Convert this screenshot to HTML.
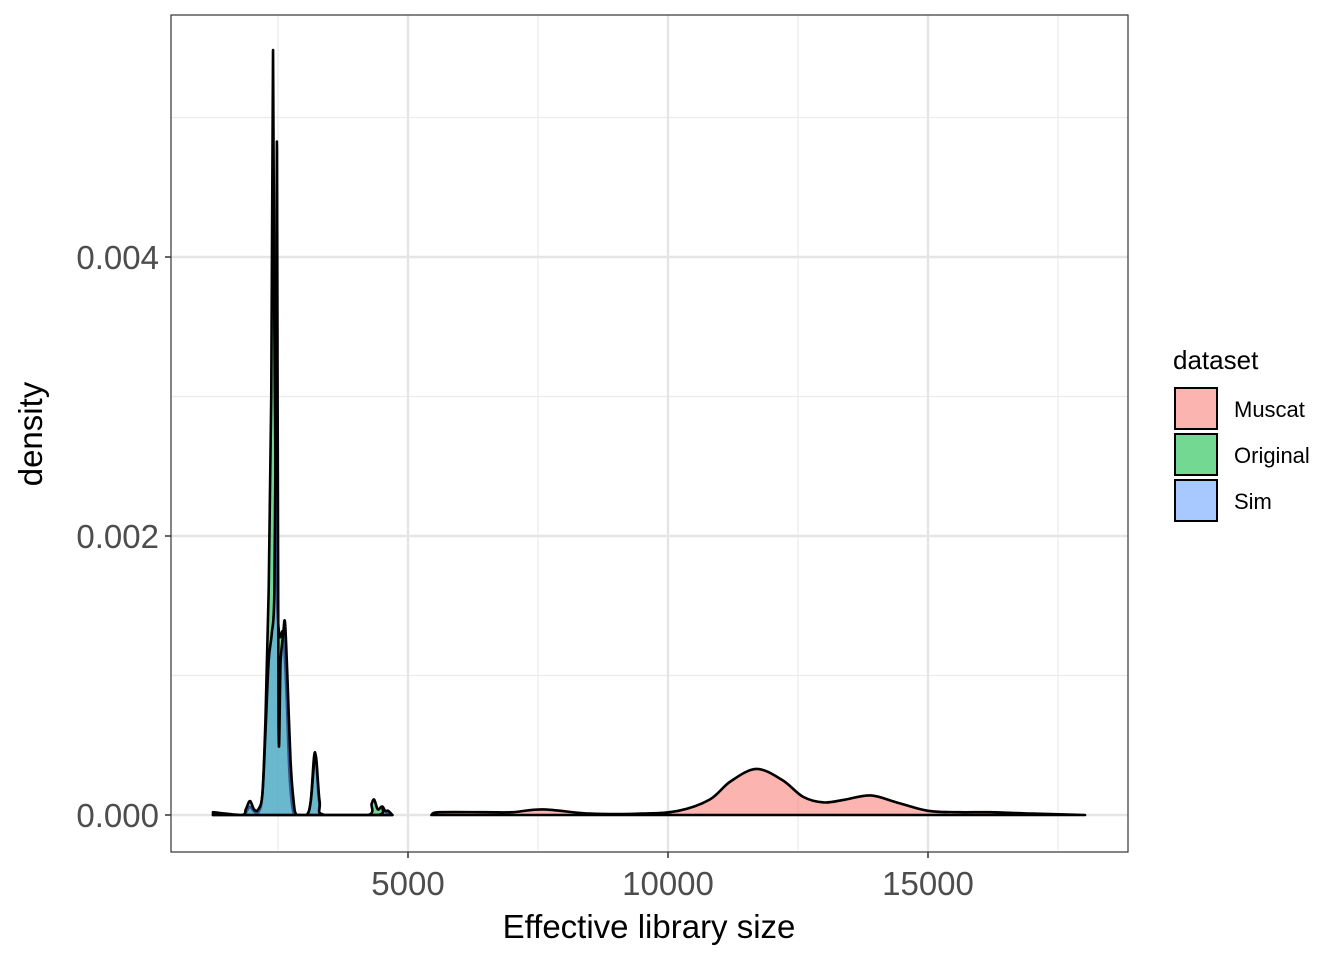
<!DOCTYPE html>
<html><head><meta charset="utf-8"><style>
body{margin:0;background:#fff;font-family:"Liberation Sans",Arial,sans-serif}
</style></head><body>
<svg id="c" width="1344" height="960" xmlns="http://www.w3.org/2000/svg"></svg>
<script>
const xTicks=[5000,10000,15000];
const yTicks=[0,0.002,0.004];
const yTickLabels=["0.000","0.002","0.004"];
const seriesNames=["Muscat","Original","Sim"];
const muscatX=[5450,5600,6500,7000,7600,8500,9500,10200,10800,11200,11700,12200,12600,13000,13400,13900,14400,15000,15600,16200,17000,18020];
const muscatY=[0,0.00002,0.00002,0.00002,0.00004,0.00001,0.00001,0.00003,0.00011,0.00024,0.00033,0.00025,0.00013,0.00009,0.00011,0.00014,0.00009,0.00003,0.00002,0.00002,0.00001,0];
const originalX=[1250,1800,1900,1960,2030,2120,2200,2260,2320,2370,2404,2430,2470,2520,2600,2660,2720,2780,2850,3050,3130,3210,3290,3380,4230,4300,4350,4420,4500,4580,4700];
const originalY=[0,0,0.00003,0.00006,0.00003,0.00002,0.00015,0.0007,0.0016,0.003,0.00548,0.0035,0.0018,0.0013,0.0013,0.0009,0.0003,0.00005,0,0,0.0001,0.00045,0.0001,0,0,0.00008,0.00011,0.00004,0.00006,0.00002,0];
const simX=[1250,1800,1880,1960,2040,2120,2200,2260,2320,2380,2430,2460,2481,2510,2550,2600,2635,2680,2740,2800,2860,3050,3130,3220,3300,3400,4420,4500,4560,4620,4700];
const simY=[0.00002,0,0.00004,0.0001,0.00004,0.00004,0.00015,0.0006,0.0011,0.0013,0.0016,0.003,0.00477,0.0007,0.0011,0.0013,0.00138,0.001,0.0004,0.0001,0,0,0.0001,0.00043,0.0001,0,0,0.00006,0.00003,0.00003,0];
const NS="http://www.w3.org/2000/svg";
const svg=document.getElementById('c');
const L=171,R=1128,T=15,B=852;
const X=v=>148+v*0.052;
const Y=v=>815-v*139500;
function mk(tag,attrs,parent){const e=document.createElementNS(NS,tag);for(const k in attrs)e.setAttribute(k,attrs[k]);(parent||svg).appendChild(e);return e;}
[2500,7500,12500,17500].forEach(v=>{const l=mk('line',{x1:X(v),x2:X(v),y1:T,y2:B,stroke:'#ebebeb','stroke-width':1.2});

});
[0.001,0.003,0.005].forEach(v=>{const l=mk('line',{x1:L,x2:R,y1:Y(v),y2:Y(v),stroke:'#ebebeb','stroke-width':1.2});

});
xTicks.forEach(v=>{const l=mk('line',{x1:X(v),x2:X(v),y1:T,y2:B,stroke:'#e5e5e5','stroke-width':2.4});

});
yTicks.forEach(v=>{const l=mk('line',{x1:L,x2:R,y1:Y(v),y2:Y(v),stroke:'#e5e5e5','stroke-width':2.4});

});
function path(xs,ys){
  const p=xs.map((x,i)=>[X(x),Y(ys[i])]);
  let d=`M${p[0][0]},${p[0][1]}`;
  for(let i=0;i<p.length-1;i++){
    const p0=p[Math.max(0,i-1)],p1=p[i],p2=p[i+1],p3=p[Math.min(p.length-1,i+2)];
    let c1y=p1[1]+(p2[1]-p0[1])/6, c2y=p2[1]-(p3[1]-p1[1])/6;
    c1y=Math.min(c1y,Y(0));c2y=Math.min(c2y,Y(0));
    d+=` C${p1[0]+(p2[0]-p0[0])/6},${c1y} ${p2[0]-(p3[0]-p1[0])/6},${c2y} ${p2[0]},${p2[1]}`;
  }
  return d+` L${p[p.length-1][0]},${Y(0)} L${p[0][0]},${Y(0)} Z`;
}
const cols=['#F8766D','#00BA38','#619CFF'];
const data=[[muscatX,muscatY],[originalX,originalY],[simX,simY]];
data.forEach((s,i)=>{const e=mk('path',{d:path(s[0],s[1]),fill:cols[i],'fill-opacity':0.55,stroke:'#000','stroke-width':2.6,'stroke-linejoin':'round'});

});
const fr=mk('rect',{x:L,y:T,width:R-L,height:B-T,fill:'none',stroke:'#333','stroke-width':1.2});


xTicks.forEach(v=>{mk('line',{x1:X(v),x2:X(v),y1:B,y2:B+6,stroke:'#333','stroke-width':1.5});
const t=mk('text',{x:X(v),y:895,'text-anchor':'middle','font-size':33,fill:'#4d4d4d'});t.textContent=v;

});
yTicks.forEach((v,i)=>{mk('line',{x1:L-6,x2:L,y1:Y(v),y2:Y(v),stroke:'#333','stroke-width':1.5});
const t=mk('text',{x:159,y:Y(v)+12,'text-anchor':'end','font-size':33,fill:'#4d4d4d'});t.textContent=yTickLabels[i];

});
const xt=mk('text',{x:649,y:938,'text-anchor':'middle','font-size':33,fill:'#000'});xt.textContent='Effective library size';


const yt=mk('text',{x:0,y:0,'text-anchor':'middle','font-size':33,fill:'#000',transform:'translate(42,434) rotate(-90)'});yt.textContent='density';


const lt=mk('text',{x:1173,y:369,'font-size':26,fill:'#000'});lt.textContent='dataset';


seriesNames.forEach((n,i)=>{const y=388+i*46;
const r=mk('rect',{x:1175,y:y,width:42,height:41,fill:cols[i],'fill-opacity':0.55,stroke:'#000','stroke-width':2});


const t=mk('text',{x:1234,y:y+29,'font-size':22,fill:'#000'});t.textContent=n;

});
</script>
</body></html>
